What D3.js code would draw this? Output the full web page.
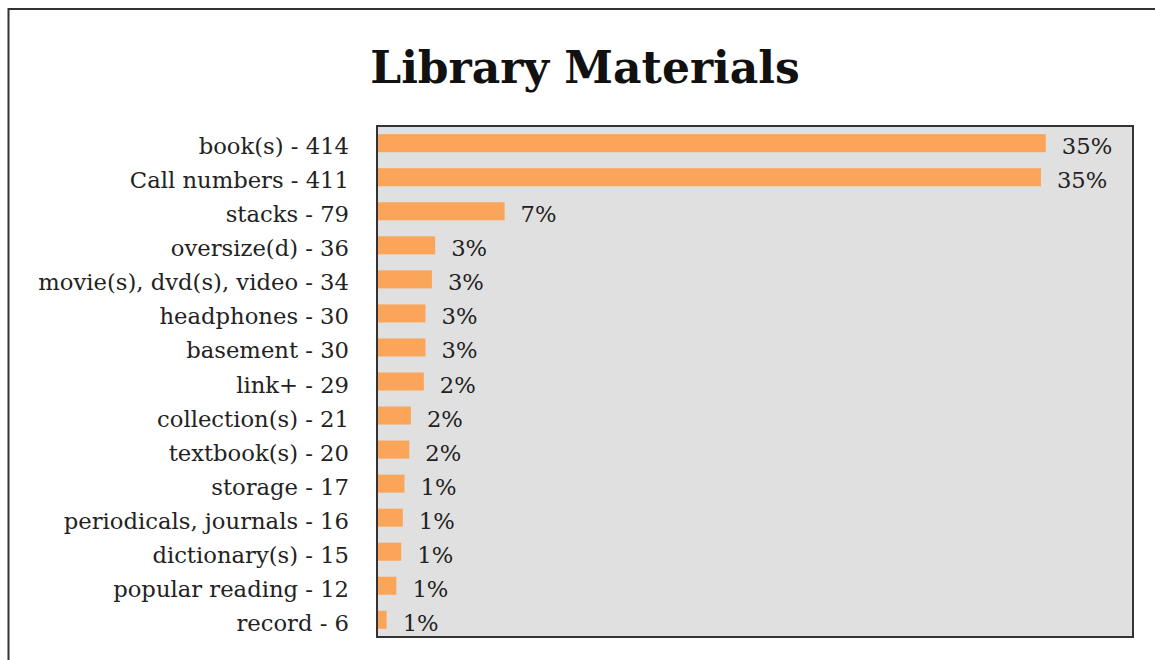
<!DOCTYPE html>
<html>
<head>
<meta charset="utf-8">
<script src="https://cdn.jsdelivr.net/npm/d3@7"></script>
<style>
  body { margin: 0; background: #fff; }
  svg { display: block; }
</style>
</head>
<body>
<svg id="chart"></svg>
<script>
// data
var categories = ['book(s)', 'Call numbers', 'stacks', 'oversize(d)', 'movie(s), dvd(s), video',
  'headphones', 'basement', 'link+', 'collection(s)', 'textbook(s)', 'storage',
  'periodicals, journals', 'dictionary(s)', 'popular reading', 'record'];
var counts = [414, 411, 79, 36, 34, 30, 30, 29, 21, 20, 17, 16, 15, 12, 6];

var total = d3.sum(counts);
var rows = categories.map(function (c, i) {
  return { name: c, count: counts[i], share: counts[i] / total };
});

var svgWidth = 1155, svgHeight = 660;
var plot = { left: 377, top: 126, right: 1133, bottom: 637 };

var svg = d3.select('#chart')
  .attr('width', svgWidth)
  .attr('height', svgHeight);

// outer frame (runs off the right and bottom edges)
svg.append('rect')
  .attr('x', 8.5).attr('y', 9)
  .attr('width', 1160).attr('height', 700)
  .style('fill', 'none')
  .style('stroke', '#333')
  .style('stroke-width', 2);

svg.append('text')
  .attr('x', 585).attr('y', 83)
  .attr('text-anchor', 'middle')
  .style('font-family', '"DejaVu Serif", serif')
  .style('font-weight', 'bold')
  .style('font-size', '44px')
  .style('fill', '#111')
  .text('Library Materials');

var xScale = d3.scaleLinear()
  .domain([0, 0.4])
  .range([plot.left, plot.right]);

var yScale = d3.scaleBand()
  .domain(categories)
  .range([plot.top, plot.bottom])
  .paddingInner(0.47)
  .paddingOuter(0.24);

svg.append('rect')
  .attr('x', plot.left).attr('y', plot.top)
  .attr('width', plot.right - plot.left)
  .attr('height', plot.bottom - plot.top)
  .style('fill', '#e0e0e0')
  .style('stroke', '#333')
  .style('stroke-width', 2);

svg.selectAll('rect.bar')
  .data(rows)
  .enter()
  .append('rect')
  .attr('class', 'bar')
  .attr('x', xScale(0) + 1)
  .attr('y', function (d) { return yScale(d.name); })
  .attr('width', function (d) { return xScale(d.share) - xScale(0) - 1; })
  .attr('height', yScale.bandwidth())
  .style('fill', '#fba55a');

var pct = d3.format('.0%');

svg.selectAll('text.pct')
  .data(rows)
  .enter()
  .append('text')
  .attr('class', 'pct')
  .attr('x', function (d) { return xScale(d.share) + 16; })
  .attr('y', function (d) { return yScale(d.name) + yScale.bandwidth() / 2 + 11; })
  .style('font-family', '"DejaVu Serif", serif')
  .style('font-size', '22.7px')
  .style('fill', '#222')
  .text(function (d) { return pct(d.share); });

// category labels on the left
svg.selectAll('text.cat')
  .data(rows)
  .enter()
  .append('text')
  .attr('class', 'cat')
  .attr('x', 349)
  .attr('y', function (d) { return yScale(d.name) + yScale.bandwidth() / 2 + 11; })
  .attr('text-anchor', 'end')
  .style('font-family', '"DejaVu Serif", serif')
  .style('font-size', '22.7px')
  .style('fill', '#222')
  .text(function (d) { return d.name + ' - ' + d.count; });
</script>
</body>
</html>
